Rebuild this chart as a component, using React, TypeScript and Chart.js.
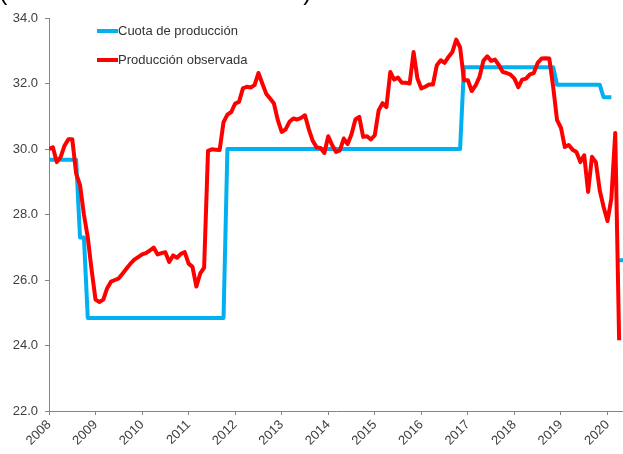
import React, { useEffect, useRef } from 'react';
import { Chart, registerables } from 'chart.js';

Chart.register(...registerables);

// Tick labels (one per January, months counted from Jan 2008)
const yearLabels = ['2008', '2009', '2010', '2011', '2012', '2013', '2014', '2015', '2016', '2017', '2018', '2019', '2020'];

const seriesNames = ['Cuota de producción', 'Producción observada'];
const seriesColors = ['#00B0F0', '#FF0000'];
const unitsLabel = '(millones de barriles diarios)';

// Monthly production quota (million barrels per day)
const quota: (number | null)[] = [
  29.67, 29.67, 29.67, 29.67, 29.67, 29.67, 29.67, 29.67,
  27.3, 27.3,
  24.84, 24.84, 24.84, 24.84, 24.84, 24.84, 24.84, 24.84, 24.84, 24.84, 24.84, 24.84,
  24.84, 24.84, 24.84, 24.84, 24.84, 24.84, 24.84, 24.84, 24.84, 24.84, 24.84, 24.84,
  24.84, 24.84, 24.84, 24.84, 24.84, 24.84, 24.84, 24.84, 24.84, 24.84, 24.84, 24.84,
  30.0, 30.0, 30.0, 30.0, 30.0, 30.0, 30.0, 30.0, 30.0, 30.0, 30.0, 30.0,
  30.0, 30.0, 30.0, 30.0, 30.0, 30.0, 30.0, 30.0, 30.0, 30.0, 30.0, 30.0,
  30.0, 30.0, 30.0, 30.0, 30.0, 30.0, 30.0, 30.0, 30.0, 30.0, 30.0, 30.0,
  30.0, 30.0, 30.0, 30.0, 30.0, 30.0, 30.0, 30.0, 30.0, 30.0, 30.0, 30.0,
  30.0, 30.0, 30.0, 30.0, 30.0, 30.0, 30.0, 30.0, 30.0, 30.0, 30.0, 30.0, 30.0,
  32.5, 32.5, 32.5, 32.5, 32.5, 32.5, 32.5, 32.5, 32.5, 32.5, 32.5, 32.5,
  32.5, 32.5, 32.5, 32.5, 32.5, 32.5, 32.5, 32.5, 32.5, 32.5, 32.5, 32.5,
  31.96, 31.96, 31.96, 31.96, 31.96, 31.96, 31.96, 31.96, 31.96, 31.96, 31.96, 31.96,
  31.58, 31.58, 31.58,
  null,
  26.6, 26.6,
];

// Monthly observed production (million barrels per day)
const production: number[] = [
  30.0, 30.05, 29.6, 29.75, 30.1, 30.3, 30.3, 29.25, 28.9, 28.0, 27.3, 26.3,
  25.4, 25.33, 25.4, 25.75, 25.95, 26.0, 26.05, 26.2, 26.35, 26.5, 26.62, 26.7,
  26.78, 26.82, 26.9, 26.99, 26.78, 26.82, 26.85, 26.55, 26.75, 26.68, 26.8, 26.85,
  26.5, 26.4, 25.8, 26.2, 26.38, 29.94, 29.99, 29.98, 29.97, 30.82, 31.05, 31.13,
  31.39, 31.44, 31.85, 31.9, 31.88, 31.95, 32.32, 32.0, 31.69, 31.54, 31.39, 30.88,
  30.52, 30.6, 30.83, 30.93, 30.9, 30.95, 31.03, 30.6, 30.25, 30.05, 30.03, 29.88,
  30.39, 30.12, 29.91, 29.96, 30.32, 30.15, 30.45, 30.9, 30.98, 30.37, 30.39, 30.29,
  30.42, 31.18, 31.4, 31.28, 32.35, 32.12, 32.18, 32.02, 32.02, 32.0, 32.96, 32.15,
  31.85, 31.9, 31.97, 31.97, 32.56, 32.71, 32.63, 32.81, 32.96, 33.34, 33.1, 32.1,
  32.1, 31.77, 31.94, 32.2, 32.69, 32.83, 32.69, 32.73, 32.56, 32.35, 32.32, 32.27,
  32.15, 31.89, 32.12, 32.15, 32.28, 32.32, 32.63, 32.76, 32.77, 32.76, 31.89, 30.88,
  30.65, 30.06, 30.12, 29.98, 29.91, 29.6, 29.81, 28.69, 29.76, 29.6, 28.74, 28.23,
  27.8, 28.49, 30.49, 24.16,
];

const FONT = '"Liberation Sans", Arial, sans-serif';
const AXIS_COLOR = '#868686';
const TEXT_COLOR = '#404040';

export default function App() {
  const ref = useRef<HTMLCanvasElement>(null);

  useEffect(() => {
    const canvas = ref.current;
    if (!canvas) return;

    const overlay = {
      id: 'overlay',
      afterDraw(chart: any) {
        const ctx = chart.ctx;
        ctx.save();
        // cut-off units line at the very top
        ctx.font = `25px ${FONT}`;
        ctx.fillStyle = '#000';
        ctx.textAlign = 'left';
        ctx.textBaseline = 'alphabetic';
        ctx.fillText(unitsLabel, -1, 0);
        // legend inside the plot area
        const rows = [31, 60];
        chart.data.datasets.forEach((ds: any, i: number) => {
          const y = rows[i];
          ctx.strokeStyle = ds.borderColor;
          ctx.lineWidth = 4;
          ctx.lineCap = 'butt';
          ctx.beginPath();
          ctx.moveTo(97, y);
          ctx.lineTo(118, y);
          ctx.stroke();
          ctx.font = `13px ${FONT}`;
          ctx.fillStyle = '#333';
          ctx.textBaseline = 'middle';
          ctx.fillText(ds.label, 118, y);
        });
        ctx.restore();
      },
    };

    const chart = new Chart(canvas, {
      type: 'line',
      data: {
        datasets: [
          {
            label: seriesNames[0],
            data: quota.map((v, i) => ({ x: i, y: v })),
            borderColor: seriesColors[0],
            backgroundColor: seriesColors[0],
            borderWidth: 4,
            pointRadius: 0,
            tension: 0,
            spanGaps: false,
            borderJoinStyle: 'round',
            order: 1,
          },
          {
            label: seriesNames[1],
            data: production.map((v, i) => ({ x: i, y: v })),
            borderColor: seriesColors[1],
            backgroundColor: seriesColors[1],
            borderWidth: 4,
            pointRadius: 0,
            tension: 0,
            borderJoinStyle: 'round',
            order: 0,
          },
        ],
      },
      options: {
        animation: false,
        responsive: false,
        maintainAspectRatio: false,
        layout: { padding: { top: 18, right: 0, left: 0, bottom: 0 } },
        plugins: {
          legend: { display: false },
          tooltip: { enabled: false },
          title: { display: false },
        },
        scales: {
          x: {
            type: 'linear',
            min: 0,
            max: 148,
            afterFit(scale: any) {
              scale.height = 43;
              scale.paddingLeft = 0;
              scale.paddingRight = 0;
            },
            grid: { drawOnChartArea: false, color: AXIS_COLOR, tickLength: 4 },
            border: { color: AXIS_COLOR, width: 1 },
            ticks: {
              stepSize: 12,
              includeBounds: false,
              autoSkip: false,
              maxRotation: 45,
              minRotation: 45,
              padding: 2,
              color: TEXT_COLOR,
              font: { family: FONT, size: 13 },
              callback: (v: any) => {
                const idx = Number(v) / 12;
                return Number.isInteger(idx) && yearLabels[idx] ? yearLabels[idx] : '';
              },
            },
          },
          y: {
            min: 22,
            max: 34,
            afterFit(scale: any) {
              scale.width = 49;
            },
            grid: { drawOnChartArea: false, color: AXIS_COLOR, tickLength: 4 },
            border: { color: AXIS_COLOR, width: 1 },
            ticks: {
              stepSize: 2,
              padding: 7,
              color: TEXT_COLOR,
              font: { family: FONT, size: 13 },
              callback: (v: any) => Number(v).toFixed(1),
            },
          },
        },
      },
      plugins: [overlay],
    } as any);

    return () => chart.destroy();
  }, []);

  return (
    <div style={{ position: 'fixed', left: 0, top: 0, width: 623, height: 454, background: '#fff' }}>
      <canvas ref={ref} width={623} height={454} style={{ display: 'block' }} />
    </div>
  );
}
